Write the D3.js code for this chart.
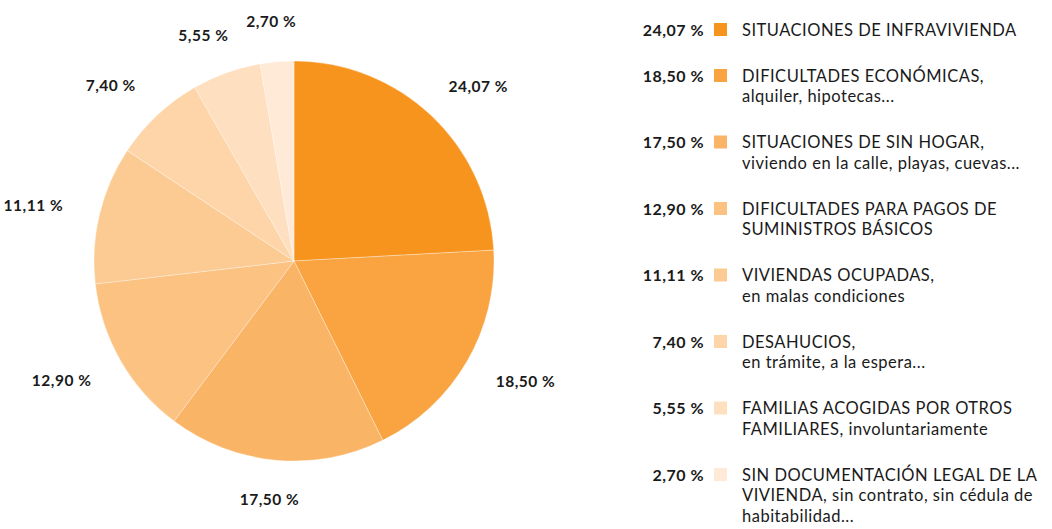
<!DOCTYPE html>
<html>
<head>
<meta charset="utf-8">
<script src="https://cdn.jsdelivr.net/npm/d3@7"></script>
<style>
  body { margin: 0; background: #fff; }
  svg text { font-family: Lato, "Open Sans", sans-serif; fill: #1a1a1a; }
</style>
</head>
<body>
<div id="chart"></div>
<script>
// data
const categories = [
    "SITUACIONES DE INFRAVIVIENDA",
    "DIFICULTADES ECONÓMICAS",
    "SITUACIONES DE SIN HOGAR",
    "DIFICULTADES PARA PAGOS DE SUMINISTROS BÁSICOS",
    "VIVIENDAS OCUPADAS",
    "DESAHUCIOS",
    "FAMILIAS ACOGIDAS POR OTROS FAMILIARES",
    "SIN DOCUMENTACIÓN LEGAL DE LA VIVIENDA"
];
const values = [24.07, 18.50, 17.50, 12.90, 11.11, 7.40, 5.55, 2.70];
const legendLines = [
    ["SITUACIONES DE INFRAVIVIENDA"],
    ["DIFICULTADES ECONÓMICAS,", "alquiler, hipotecas..."],
    ["SITUACIONES DE SIN HOGAR,", "viviendo en la calle, playas, cuevas..."],
    ["DIFICULTADES PARA PAGOS DE", "SUMINISTROS BÁSICOS"],
    ["VIVIENDAS OCUPADAS,", "en malas condiciones"],
    ["DESAHUCIOS,", "en trámite, a la espera..."],
    ["FAMILIAS ACOGIDAS POR OTROS", "FAMILIARES, involuntariamente"],
    ["SIN DOCUMENTACIÓN LEGAL DE LA", "VIVIENDA, sin contrato, sin cédula de", "habitabilidad..."]
];
const colors = ["#f7941d", "#f9a441", "#fab465", "#fbc282", "#fccb93", "#fdd5a8", "#fedfbf", "#feead6"];

const width = 1052, height = 529;
const cx = 294, cy = 261, radius = 200;

const fmt = v => d3.format(".2f")(v).replace(".", ",") + " %";

const svg = d3.select("#chart").append("svg")
    .attr("width", width)
    .attr("height", height);

const color = d3.scaleOrdinal().domain(categories).range(colors);

const pie = d3.pie().sort(null).value(d => d.value);
const data = categories.map((c, i) => ({cat: c, value: values[i], lines: legendLines[i]}));
const arcs = pie(data);

const arc = d3.arc().innerRadius(0).outerRadius(radius);

const g = svg.append("g").attr("transform", "translate(" + cx + "," + cy + ")");

g.selectAll("path")
    .data(arcs)
    .join("path")
    .attr("d", arc)
    .attr("fill", d => color(d.data.cat))
    .attr("stroke", "#fff")
    .attr("stroke-opacity", 0.45)
    .attr("stroke-width", 0.7);

// outside labels, on a slightly flattened ring
const rx = 268, ry = 240;
g.selectAll("text.val")
    .data(arcs)
    .join("text")
    .attr("class", "val")
    .attr("x", d => Math.sin((d.startAngle + d.endAngle) / 2) * rx)
    .attr("y", d => -Math.cos((d.startAngle + d.endAngle) / 2) * ry)
    .attr("dy", "0.35em")
    .attr("text-anchor", "middle")
    .attr("font-size", 15.5)
    .attr("font-weight", "bold")
    .attr("letter-spacing", 0.5)
    .text(d => fmt(d.data.value));

// legend
const lineH = 20.5, gap = 25.5;
let yPos = 30;
const legend = svg.append("g");
data.forEach(d => {
    const row = legend.append("g").attr("transform", "translate(0," + yPos + ")");
    row.append("text")
        .attr("x", 704)
        .attr("dy", "0.35em")
        .attr("text-anchor", "end")
        .attr("font-size", 16)
        .attr("font-weight", "bold")
        .attr("letter-spacing", 0.5)
        .text(fmt(d.value));
    row.append("rect")
        .attr("x", 714)
        .attr("y", -7)
        .attr("width", 13)
        .attr("height", 13)
        .attr("fill", color(d.cat));
    row.selectAll("text.lab")
        .data(d.lines)
        .join("text")
        .attr("class", "lab")
        .attr("x", 742)
        .attr("y", (l, i) => i * lineH)
        .attr("dy", "0.35em")
        .attr("font-size", 16.5)
        .attr("letter-spacing", 0.5)
        .text(l => l);
    yPos += d.lines.length * lineH + gap;
});
</script>
</body>
</html>
